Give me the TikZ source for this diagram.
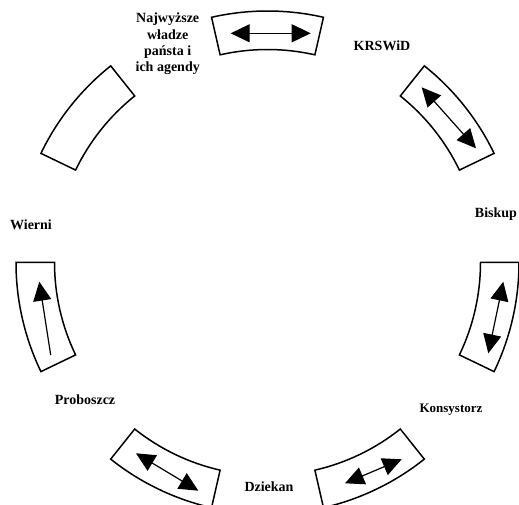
\documentclass[tikz,border=0pt]{standalone}
\usepackage{fontspec}
\setmainfont{Liberation Serif}
\usetikzlibrary{arrows.meta,calc}

\tikzset{
  lbl/.style={font=\bfseries\fontsize{14}{16.3}\selectfont, align=center, inner sep=0pt},
  ring/.style={draw=black, line width=1.5pt, line join=miter},
  tip/.tip={Triangle[length=19pt,width=18pt]},
  flow/.style={line width=1.2pt, -tip},
  flowboth/.style={line width=1.2pt, tip-tip},
}

% ring segment: #1 = centre angle
\newcommand{\ringseg}[1]{%
  \draw[ring] ([shift={(#1-12.857:213)}]C) arc[start angle=#1-12.857, end angle=#1+12.857, radius=213]
    -- ([shift={(#1+12.857:251.5)}]C) arc[start angle=#1+12.857, end angle=#1-12.857, radius=251.5]
    -- cycle;}

\begin{document}
\begin{tikzpicture}[x=1pt,y=1pt]
\useasboundingbox (0,0) rectangle (519,505);
\coordinate (C) at (267.5,242.5);

% seven ring segments
\foreach \k in {0,...,6} {
  \pgfmathsetmacro{\ang}{90-\k*360/7}
  \ringseg{\ang}
}

% labels
\node[lbl] (top) at (167.7,461) {Najwyższe\\władze\\państa i\\ich agendy};
\node[lbl] (krs) at (382,459) {KRSWiD};
\node[lbl] (bis) at (496,291) {Biskup};
\node[lbl, font=\bfseries\fontsize{13}{15}\selectfont] (kon) at (451,95) {Konsystorz};
\node[lbl] (dzi) at (269,18) {Dziekan};
\node[lbl] (pro) at (85,105) {Proboszcz};
\node[lbl] (wie) at (31,280) {Wierni};

% arrow end points
\coordinate (a1) at (230.7,471.7);
\coordinate (a2) at (310.7,471.7);
\coordinate (b1) at (421.7,417.7);
\coordinate (b2) at (476,356.7);
\coordinate (c1) at (503.3,223.3);
\coordinate (c2) at (488.3,151.7);
\coordinate (d1) at (401.7,45.7);
\coordinate (d2) at (345,21.7);
\coordinate (e1) at (136,51.7);
\coordinate (e2) at (198.3,14.3);
\coordinate (f1) at (50.7,150);
\coordinate (f2) at (39.3,223.3);

\draw[flowboth] (a1) -- (a2);
\draw[flowboth] (b1) -- (b2);
\draw[flowboth] (c1) -- (c2);
\draw[flowboth] (d1) -- (d2);
\draw[flowboth] (e1) -- (e2);
\draw[flow] (f1) -- (f2);
\end{tikzpicture}
\end{document}
